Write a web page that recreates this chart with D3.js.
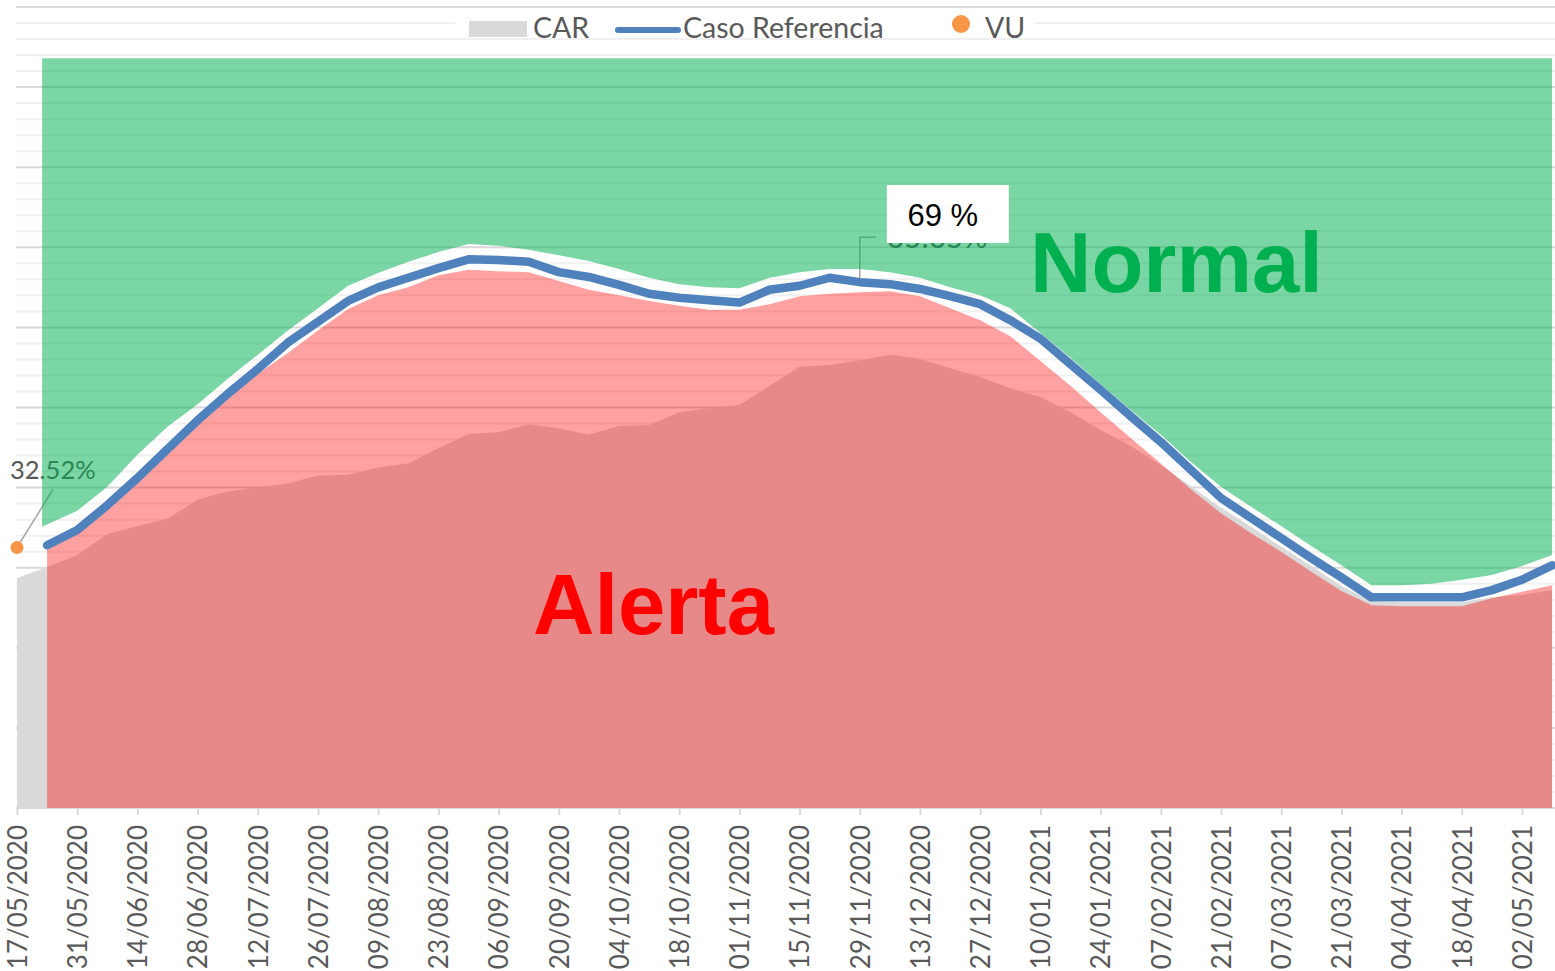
<!DOCTYPE html>
<html>
<head>
<meta charset="utf-8">
<script src="https://cdn.jsdelivr.net/npm/d3@7"></script>
<style>
  html, body { margin: 0; padding: 0; background: #fff; }
  svg { display: block; }
</style>
</head>
<body>
<svg id="chart"></svg>
<script>
const totalWidth = 1555;
const totalHeight = 971;

// weekly dates, 17/05/2020 .. 09/05/2021
const weeks = d3.timeDay.range(new Date(2020, 4, 17), new Date(2021, 4, 10), 7);

const tickLabels = [
	"17/05/2020", "31/05/2020", "14/06/2020", "28/06/2020", "12/07/2020", "26/07/2020",
	"09/08/2020", "23/08/2020", "06/09/2020", "20/09/2020", "04/10/2020", "18/10/2020",
	"01/11/2020", "15/11/2020", "29/11/2020", "13/12/2020", "27/12/2020", "10/01/2021",
	"24/01/2021", "07/02/2021", "21/02/2021", "07/03/2021", "21/03/2021", "04/04/2021",
	"18/04/2021", "02/05/2021"
];

// CAR (%), from 17/05/2020
const car = [
	28.7, 30.1, 31.6, 34.2, 35.2, 36.1, 38.5, 39.5, 40.0, 40.5, 41.5, 41.6, 42.5, 43.0,
	44.9, 46.7, 46.9, 47.9, 47.4, 46.6, 47.7, 47.8, 49.4, 49.9, 50.3, 52.7, 55.1, 55.3,
	55.9, 56.6, 56.1, 54.9, 53.8, 52.4, 51.3, 49.4, 47.2, 45.2, 42.8, 40.2, 37.5, 35.1,
	32.6, 30.2, 27.7, 25.8, 25.7, 25.7, 25.7, 26.3, 26.6, 27.2
];

// Caso Referencia (%), from 24/05/2020
const casoRef = [
	32.8, 34.7, 37.8, 41.2, 44.8, 48.4, 51.7, 54.8, 58.1, 60.7, 63.3,
	65.0, 66.2, 67.4, 68.5, 68.4, 68.2, 66.9, 66.3, 65.3, 64.2, 63.7, 63.4, 63.1, 64.7, 65.2,
	66.2, 65.65, 65.4, 64.8, 63.9, 62.9, 60.9, 58.6, 55.4, 52.2, 48.9, 45.7,
	42.2, 38.7, 36.2, 33.7, 31.2, 28.8, 26.3, 26.3, 26.3, 26.3, 27.2, 28.5, 30.3
];

// lower edge of the "Normal" band (%), from 24/05/2020
const normalLow = [
	35.1, 37.1, 40.1, 44.1, 47.6, 50.4, 53.6, 56.6, 59.6, 62.4, 65.2,
	66.8, 68.2, 69.4, 70.4, 70.2, 69.7, 69.0, 68.3, 67.3, 66.2, 65.4, 65.0, 64.9, 66.2, 66.9,
	67.3, 67.3, 66.9, 66.2, 65.0, 64.0, 62.4, 59.3, 56.2, 52.9, 49.7, 46.6,
	43.2, 40.1, 37.6, 35.2, 32.7, 30.3, 27.8, 27.8, 28.0, 28.5, 29.1, 30.2, 31.6
];
const normalTop = 93.6;

// upper edge of the "Alerta" band (%), from 24/05/2020
const alertaTop = [
	32.6, 34.7, 38.1, 41.5, 44.7, 47.8, 51.4, 54.2, 56.8, 59.6, 62.3,
	64.0, 65.0, 66.5, 67.2, 67.0, 66.9, 65.8, 64.7, 64.0, 63.3, 62.7, 62.2, 62.2, 62.9, 63.9,
	64.2, 64.4, 64.5, 63.9, 62.4, 60.9, 58.9, 55.8, 52.7, 49.4, 46.2, 43.0,
	39.8, 36.8, 34.3, 32.0, 29.5, 27.1, 25.3, 25.2, 25.2, 25.2, 26.2, 27.0, 27.8
];

const vuValue = 32.52;
const peakLabel = "69 %";

const xAxis = d3
	.scaleTime()
	.domain([new Date(2020, 4, 17), new Date(2021, 4, 2)])
	.range([17, 1522]);

const yAxis = d3.scaleLinear().domain([0, 100]).range([808, 7]);

const svg = d3.select("#chart").attr("width", totalWidth).attr("height", totalHeight);

// gridlines (minor every 2 %, major every 10 %)
const grid = svg.append("g");
grid
	.selectAll("line")
	.data(d3.range(0, 101, 2))
	.join("line")
	.attr("x1", 16)
	.attr("x2", totalWidth)
	.attr("y1", (d) => yAxis(d))
	.attr("y2", (d) => yAxis(d))
	.attr("stroke", (d) => (d % 10 === 0 ? "#d9d9d9" : "#f0f0f0"))
	.attr("stroke-width", 2);

const parseDMY = d3.timeParse("%d/%m/%Y");
const fmtDMY = d3.timeFormat("%d/%m/%Y");

// CAR area (opaque grey)
const carData = car.map((v, i) => ({ date: weeks[i], value: v }));
svg
	.append("path")
	.datum(carData)
	.attr("fill", "#d9d9d9")
	.attr(
		"d",
		d3
			.area()
			.x((d) => xAxis(d.date))
			.y0(yAxis(0))
			.y1((d) => yAxis(d.value))
	);

// VU data label and leader (beneath the green band)
const vuX = xAxis(weeks[0]);
const vuY = yAxis(vuValue);
svg
	.append("line")
	.attr("x1", vuX)
	.attr("y1", vuY)
	.attr("x2", vuX + 36)
	.attr("y2", vuY - 58)
	.attr("stroke", "#a6a6a6")
	.attr("stroke-width", 1.5);
svg
	.append("text")
	.attr("x", vuX - 7)
	.attr("y", vuY - 69)
	.attr("font-family", "Lato, sans-serif")
	.attr("font-size", 25.5)
	.attr("fill", "#595959")
	.text(d3.format(".2f")(vuValue) + "%");

// data label of Caso Referencia at 29/11/2020 (partly hidden by the box)
const labelDate = parseDMY("29/11/2020");
const labelIdx = weeks.findIndex((d) => +d === +labelDate) - 1;
const lblX = xAxis(labelDate);
const lblY = yAxis(casoRef[labelIdx]);
svg
	.append("path")
	.attr("d", `M${lblX},${lblY} V${lblY - 45} H${lblX + 16}`)
	.attr("fill", "none")
	.attr("stroke", "#a6a6a6")
	.attr("stroke-width", 1.5);
svg
	.append("text")
	.attr("x", lblX + 27)
	.attr("y", lblY - 34)
	.attr("font-family", "Lato, sans-serif")
	.attr("font-size", 30)
	.attr("fill", "#595959")
	.text(d3.format(".2f")(casoRef[labelIdx]) + "%");

const refData = casoRef.map((v, i) => ({
	date: weeks[i + 1],
	value: v,
	low: normalLow[i],
	alerta: alertaTop[i]
}));

// Normal band (green)
svg
	.append("path")
	.datum(refData)
	.attr("fill", "rgba(0,176,80,0.52)")
	.attr(
		"d",
		d3
			.area()
			.x((d, i) => xAxis(d.date) - (i === 0 ? 5 : 0))
			.y0((d) => yAxis(d.low))
			.y1(yAxis(normalTop))
	);

// Alerta band (red)
svg
	.append("path")
	.datum(refData)
	.attr("fill", "rgba(255,0,0,0.37)")
	.attr(
		"d",
		d3
			.area()
			.x((d) => xAxis(d.date))
			.y0(yAxis(0))
			.y1((d) => yAxis(d.alerta))
	);

// Caso Referencia line
svg
	.append("path")
	.datum(refData)
	.attr("fill", "none")
	.attr("stroke", "#4f81bd")
	.attr("stroke-width", 8.5)
	.attr("stroke-linejoin", "round")
	.attr("stroke-linecap", "round")
	.attr(
		"d",
		d3
			.line()
			.x((d) => xAxis(d.date))
			.y((d) => yAxis(d.value))
	);

// VU point
svg
	.append("circle")
	.attr("cx", vuX)
	.attr("cy", vuY)
	.attr("r", 6.5)
	.attr("fill", "#f79646");

// x axis
const axisG = svg
	.append("g")
	.attr("transform", "translate(0," + yAxis(0) + ")")
	.call(
		d3
			.axisBottom(xAxis)
			.tickValues(tickLabels.map(parseDMY))
			.tickFormat(fmtDMY)
			.tickSize(7)
			.tickSizeOuter(0)
	);
axisG.select(".domain").remove();
axisG.selectAll(".tick line").attr("stroke", "#d9d9d9").attr("stroke-width", 2);
axisG
	.selectAll(".tick text")
	.attr("font-family", "Lato, sans-serif")
	.attr("font-size", 26)
	.attr("fill", "#595959")
	.attr("transform", "rotate(-90)")
	.attr("text-anchor", "end")
	.attr("x", -17)
	.attr("y", 0)
	.attr("dy", "0.36em");

// annotation box
svg
	.append("rect")
	.attr("x", lblX + 27)
	.attr("y", 185)
	.attr("width", 122)
	.attr("height", 58)
	.attr("fill", "#fff");
svg
	.append("text")
	.attr("x", lblX + 83)
	.attr("y", 226)
	.attr("text-anchor", "middle")
	.attr("font-family", "Liberation Sans, Arial, sans-serif")
	.attr("font-size", 31)
	.attr("fill", "#000")
	.text(peakLabel);

// zone names
svg
	.append("text")
	.attr("x", 1030)
	.attr("y", 292)
	.attr("font-family", "Liberation Sans, Arial, sans-serif")
	.attr("font-weight", "bold")
	.attr("font-size", 85)
	.attr("fill", "#00b050")
	.text("Normal");
svg
	.append("text")
	.attr("x", 533)
	.attr("y", 634)
	.attr("font-family", "Liberation Sans, Arial, sans-serif")
	.attr("font-weight", "bold")
	.attr("font-size", 85)
	.attr("fill", "#ff0000")
	.text("Alerta");

// legend
const legend = svg.append("g");
legend.append("rect").attr("x", 455).attr("y", 13).attr("width", 580).attr("height", 24).attr("fill", "#fff");
legend.append("rect").attr("x", 469).attr("y", 21).attr("width", 58).attr("height", 16).attr("fill", "#d9d9d9");
legend
	.append("line")
	.attr("x1", 618)
	.attr("x2", 678)
	.attr("y1", 30)
	.attr("y2", 30)
	.attr("stroke", "#4f81bd")
	.attr("stroke-width", 6)
	.attr("stroke-linecap", "round");
legend.append("circle").attr("cx", 961).attr("cy", 24).attr("r", 9).attr("fill", "#f79646");
const legendText = [
	["CAR", 533],
	["Caso Referencia", 683],
	["VU", 985]
];
legend
	.selectAll("text")
	.data(legendText)
	.join("text")
	.attr("x", (d) => d[1])
	.attr("y", 38)
	.attr("font-family", "Lato, sans-serif")
	.attr("font-size", 28.5)
	.attr("fill", "#595959")
	.text((d) => d[0]);
</script>
</body>
</html>
